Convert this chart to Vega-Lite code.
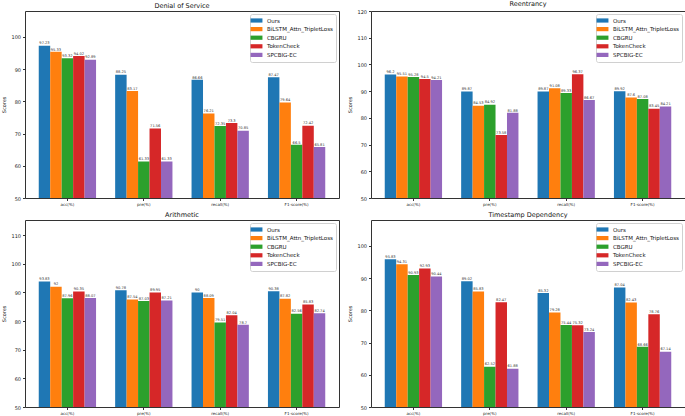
{
  "$schema": "https://vega.github.io/schema/vega-lite/v6.json",
  "padding": {"left": 1, "top": 0, "right": 2, "bottom": 0},
  "config": {
    "font": "DejaVu Sans",
    "view": {"stroke": "#333", "strokeWidth": 1},
    "title": {"fontSize": 6.5, "fontWeight": "normal", "color": "#111", "offset": 2, "font": "DejaVu Sans"},
    "axis": {"domain": false, "tickColor": "#333", "tickSize": 2.5, "labelColor": "#222", "labelFont": "DejaVu Sans", "titleFont": "DejaVu Sans", "titleFontWeight": "normal", "titleColor": "#222", "grid": false},
    "legend": {"orient": "top-right", "offset": 3, "strokeColor": "#d0d0d0", "fillColor": "white", "padding": 3, "cornerRadius": 2, "labelFontSize": 5.5, "labelColor": "#111", "rowPadding": 1.6, "symbolType": "M-1.7,-0.6H1.7V0.6H-1.7Z", "symbolSize": 49, "symbolStrokeWidth": 0, "labelOffset": 7, "title": null}
  },
  "datasets": {
    "scores": [
      {"panel": "DoS", "metric": "acc(%)", "model": "Ours", "value": 97.23},
      {"panel": "DoS", "metric": "acc(%)", "model": "BiLSTM_Attn_TripletLoss", "value": 95.33},
      {"panel": "DoS", "metric": "acc(%)", "model": "CBGRU", "value": 93.32},
      {"panel": "DoS", "metric": "acc(%)", "model": "TokenCheck", "value": 94.02},
      {"panel": "DoS", "metric": "acc(%)", "model": "SPCBIG-EC", "value": 92.89},
      {"panel": "DoS", "metric": "pre(%)", "model": "Ours", "value": 88.25},
      {"panel": "DoS", "metric": "pre(%)", "model": "BiLSTM_Attn_TripletLoss", "value": 83.17},
      {"panel": "DoS", "metric": "pre(%)", "model": "CBGRU", "value": 61.33},
      {"panel": "DoS", "metric": "pre(%)", "model": "TokenCheck", "value": 71.56},
      {"panel": "DoS", "metric": "pre(%)", "model": "SPCBIG-EC", "value": 61.33},
      {"panel": "DoS", "metric": "recall(%)", "model": "Ours", "value": 86.66},
      {"panel": "DoS", "metric": "recall(%)", "model": "BiLSTM_Attn_TripletLoss", "value": 76.21},
      {"panel": "DoS", "metric": "recall(%)", "model": "CBGRU", "value": 72.35},
      {"panel": "DoS", "metric": "recall(%)", "model": "TokenCheck", "value": 73.3},
      {"panel": "DoS", "metric": "recall(%)", "model": "SPCBIG-EC", "value": 70.85},
      {"panel": "DoS", "metric": "F1-score(%)", "model": "Ours", "value": 87.47},
      {"panel": "DoS", "metric": "F1-score(%)", "model": "BiLSTM_Attn_TripletLoss", "value": 79.64},
      {"panel": "DoS", "metric": "F1-score(%)", "model": "CBGRU", "value": 66.5},
      {"panel": "DoS", "metric": "F1-score(%)", "model": "TokenCheck", "value": 72.42},
      {"panel": "DoS", "metric": "F1-score(%)", "model": "SPCBIG-EC", "value": 65.81},

      {"panel": "Re", "metric": "acc(%)", "model": "Ours", "value": 96.2},
      {"panel": "Re", "metric": "acc(%)", "model": "BiLSTM_Attn_TripletLoss", "value": 95.51},
      {"panel": "Re", "metric": "acc(%)", "model": "CBGRU", "value": 95.28},
      {"panel": "Re", "metric": "acc(%)", "model": "TokenCheck", "value": 94.5},
      {"panel": "Re", "metric": "acc(%)", "model": "SPCBIG-EC", "value": 94.21},
      {"panel": "Re", "metric": "pre(%)", "model": "Ours", "value": 89.87},
      {"panel": "Re", "metric": "pre(%)", "model": "BiLSTM_Attn_TripletLoss", "value": 84.53},
      {"panel": "Re", "metric": "pre(%)", "model": "CBGRU", "value": 84.92},
      {"panel": "Re", "metric": "pre(%)", "model": "TokenCheck", "value": 73.58},
      {"panel": "Re", "metric": "pre(%)", "model": "SPCBIG-EC", "value": 81.88},
      {"panel": "Re", "metric": "recall(%)", "model": "Ours", "value": 89.87},
      {"panel": "Re", "metric": "recall(%)", "model": "BiLSTM_Attn_TripletLoss", "value": 91.08},
      {"panel": "Re", "metric": "recall(%)", "model": "CBGRU", "value": 89.33},
      {"panel": "Re", "metric": "recall(%)", "model": "TokenCheck", "value": 96.37},
      {"panel": "Re", "metric": "recall(%)", "model": "SPCBIG-EC", "value": 86.67},
      {"panel": "Re", "metric": "F1-score(%)", "model": "Ours", "value": 89.92},
      {"panel": "Re", "metric": "F1-score(%)", "model": "BiLSTM_Attn_TripletLoss", "value": 87.6},
      {"panel": "Re", "metric": "F1-score(%)", "model": "CBGRU", "value": 87.08},
      {"panel": "Re", "metric": "F1-score(%)", "model": "TokenCheck", "value": 83.45},
      {"panel": "Re", "metric": "F1-score(%)", "model": "SPCBIG-EC", "value": 84.21},

      {"panel": "Ar", "metric": "acc(%)", "model": "Ours", "value": 93.83},
      {"panel": "Ar", "metric": "acc(%)", "model": "BiLSTM_Attn_TripletLoss", "value": 92.0},
      {"panel": "Ar", "metric": "acc(%)", "model": "CBGRU", "value": 87.96},
      {"panel": "Ar", "metric": "acc(%)", "model": "TokenCheck", "value": 90.35},
      {"panel": "Ar", "metric": "acc(%)", "model": "SPCBIG-EC", "value": 88.07},
      {"panel": "Ar", "metric": "pre(%)", "model": "Ours", "value": 90.78},
      {"panel": "Ar", "metric": "pre(%)", "model": "BiLSTM_Attn_TripletLoss", "value": 87.54},
      {"panel": "Ar", "metric": "pre(%)", "model": "CBGRU", "value": 87.03},
      {"panel": "Ar", "metric": "pre(%)", "model": "TokenCheck", "value": 89.95},
      {"panel": "Ar", "metric": "pre(%)", "model": "SPCBIG-EC", "value": 87.21},
      {"panel": "Ar", "metric": "recall(%)", "model": "Ours", "value": 90.0},
      {"panel": "Ar", "metric": "recall(%)", "model": "BiLSTM_Attn_TripletLoss", "value": 88.09},
      {"panel": "Ar", "metric": "recall(%)", "model": "CBGRU", "value": 79.51},
      {"panel": "Ar", "metric": "recall(%)", "model": "TokenCheck", "value": 82.04},
      {"panel": "Ar", "metric": "recall(%)", "model": "SPCBIG-EC", "value": 78.7},
      {"panel": "Ar", "metric": "F1-score(%)", "model": "Ours", "value": 90.38},
      {"panel": "Ar", "metric": "F1-score(%)", "model": "BiLSTM_Attn_TripletLoss", "value": 87.82},
      {"panel": "Ar", "metric": "F1-score(%)", "model": "CBGRU", "value": 82.56},
      {"panel": "Ar", "metric": "F1-score(%)", "model": "TokenCheck", "value": 85.83},
      {"panel": "Ar", "metric": "F1-score(%)", "model": "SPCBIG-EC", "value": 82.74},

      {"panel": "TD", "metric": "acc(%)", "model": "Ours", "value": 95.83},
      {"panel": "TD", "metric": "acc(%)", "model": "BiLSTM_Attn_TripletLoss", "value": 94.31},
      {"panel": "TD", "metric": "acc(%)", "model": "CBGRU", "value": 90.93},
      {"panel": "TD", "metric": "acc(%)", "model": "TokenCheck", "value": 92.93},
      {"panel": "TD", "metric": "acc(%)", "model": "SPCBIG-EC", "value": 90.44},
      {"panel": "TD", "metric": "pre(%)", "model": "Ours", "value": 89.02},
      {"panel": "TD", "metric": "pre(%)", "model": "BiLSTM_Attn_TripletLoss", "value": 85.83},
      {"panel": "TD", "metric": "pre(%)", "model": "CBGRU", "value": 62.52},
      {"panel": "TD", "metric": "pre(%)", "model": "TokenCheck", "value": 82.47},
      {"panel": "TD", "metric": "pre(%)", "model": "SPCBIG-EC", "value": 61.88},
      {"panel": "TD", "metric": "recall(%)", "model": "Ours", "value": 85.32},
      {"panel": "TD", "metric": "recall(%)", "model": "BiLSTM_Attn_TripletLoss", "value": 79.28},
      {"panel": "TD", "metric": "recall(%)", "model": "CBGRU", "value": 75.44},
      {"panel": "TD", "metric": "recall(%)", "model": "TokenCheck", "value": 75.32},
      {"panel": "TD", "metric": "recall(%)", "model": "SPCBIG-EC", "value": 73.24},
      {"panel": "TD", "metric": "F1-score(%)", "model": "Ours", "value": 87.04},
      {"panel": "TD", "metric": "F1-score(%)", "model": "BiLSTM_Attn_TripletLoss", "value": 82.43},
      {"panel": "TD", "metric": "F1-score(%)", "model": "CBGRU", "value": 68.66},
      {"panel": "TD", "metric": "F1-score(%)", "model": "TokenCheck", "value": 78.76},
      {"panel": "TD", "metric": "F1-score(%)", "model": "SPCBIG-EC", "value": 67.14}
    ]
  },
  "data": {"name": "scores"},
  "spacing": 4,
  "resolve": {"legend": {"color": "independent"}},
  "vconcat": [
    {
      "spacing": 7,
      "resolve": {"legend": {"color": "independent"}},
      "hconcat": [
        {
          "width": 314, "height": 187,
          "title": "Denial of Service",
          "transform": [{"filter": "datum.panel == 'DoS'"}],
          "encoding": {
            "x": {"field": "metric", "type": "nominal", "sort": ["acc(%)", "pre(%)", "recall(%)", "F1-score(%)"], "scale": {"paddingInner": 0.25, "paddingOuter": 0.18}, "axis": {"title": null, "labelAngle": 0, "labelFontSize": 4, "labelPadding": 2}},
            "xOffset": {"field": "model", "type": "nominal", "sort": ["Ours", "BiLSTM_Attn_TripletLoss", "CBGRU", "TokenCheck", "SPCBIG-EC"], "scale": {"paddingInner": 0, "paddingOuter": 0}},
            "y": {"field": "value", "type": "quantitative", "scale": {"domain": [50, 108], "nice": false, "zero": false}, "axis": {"title": "Scores", "values": [50, 60, 70, 80, 90, 100], "labelFontSize": 5, "titleFontSize": 5, "titlePadding": 4, "labelPadding": 2}}
          },
          "layer": [
            {"mark": {"type": "bar", "clip": true}, "encoding": {"color": {"field": "model", "type": "nominal", "sort": ["Ours", "BiLSTM_Attn_TripletLoss", "CBGRU", "TokenCheck", "SPCBIG-EC"], "scale": {"domain": ["Ours", "BiLSTM_Attn_TripletLoss", "CBGRU", "TokenCheck", "SPCBIG-EC"], "range": ["#1f77b4", "#ff7f0e", "#2ca02c", "#d62728", "#9467bd"]}}}},
            {"mark": {"type": "text", "fontSize": 3.6, "baseline": "bottom", "dy": -0.3, "color": "#333"}, "encoding": {"text": {"field": "value", "type": "quantitative"}}}
          ]
        },
        {
          "width": 314, "height": 187,
          "title": "Reentrancy",
          "transform": [{"filter": "datum.panel == 'Re'"}],
          "encoding": {
            "x": {"field": "metric", "type": "nominal", "sort": ["acc(%)", "pre(%)", "recall(%)", "F1-score(%)"], "scale": {"paddingInner": 0.25, "paddingOuter": 0.18}, "axis": {"title": null, "labelAngle": 0, "labelFontSize": 4, "labelPadding": 2}},
            "xOffset": {"field": "model", "type": "nominal", "sort": ["Ours", "BiLSTM_Attn_TripletLoss", "CBGRU", "TokenCheck", "SPCBIG-EC"], "scale": {"paddingInner": 0, "paddingOuter": 0}},
            "y": {"field": "value", "type": "quantitative", "scale": {"domain": [50, 120], "nice": false, "zero": false}, "axis": {"title": "Scores", "values": [50, 60, 70, 80, 90, 100, 110, 120], "labelFontSize": 5, "titleFontSize": 5, "titlePadding": 4, "labelPadding": 2}}
          },
          "layer": [
            {"mark": {"type": "bar", "clip": true}, "encoding": {"color": {"field": "model", "type": "nominal", "sort": ["Ours", "BiLSTM_Attn_TripletLoss", "CBGRU", "TokenCheck", "SPCBIG-EC"], "scale": {"domain": ["Ours", "BiLSTM_Attn_TripletLoss", "CBGRU", "TokenCheck", "SPCBIG-EC"], "range": ["#1f77b4", "#ff7f0e", "#2ca02c", "#d62728", "#9467bd"]}}}},
            {"mark": {"type": "text", "fontSize": 3.6, "baseline": "bottom", "dy": -0.3, "color": "#333"}, "encoding": {"text": {"field": "value", "type": "quantitative"}}}
          ]
        }
      ]
    },
    {
      "spacing": 7,
      "resolve": {"legend": {"color": "independent"}},
      "hconcat": [
        {
          "width": 314, "height": 187,
          "title": "Arithmetic",
          "transform": [{"filter": "datum.panel == 'Ar'"}],
          "encoding": {
            "x": {"field": "metric", "type": "nominal", "sort": ["acc(%)", "pre(%)", "recall(%)", "F1-score(%)"], "scale": {"paddingInner": 0.25, "paddingOuter": 0.18}, "axis": {"title": null, "labelAngle": 0, "labelFontSize": 4, "labelPadding": 2}},
            "xOffset": {"field": "model", "type": "nominal", "sort": ["Ours", "BiLSTM_Attn_TripletLoss", "CBGRU", "TokenCheck", "SPCBIG-EC"], "scale": {"paddingInner": 0, "paddingOuter": 0}},
            "y": {"field": "value", "type": "quantitative", "scale": {"domain": [50, 115.3], "nice": false, "zero": false}, "axis": {"title": "Scores", "values": [50, 60, 70, 80, 90, 100, 110], "labelFontSize": 5, "titleFontSize": 5, "titlePadding": 4, "labelPadding": 2}}
          },
          "layer": [
            {"mark": {"type": "bar", "clip": true}, "encoding": {"color": {"field": "model", "type": "nominal", "sort": ["Ours", "BiLSTM_Attn_TripletLoss", "CBGRU", "TokenCheck", "SPCBIG-EC"], "scale": {"domain": ["Ours", "BiLSTM_Attn_TripletLoss", "CBGRU", "TokenCheck", "SPCBIG-EC"], "range": ["#1f77b4", "#ff7f0e", "#2ca02c", "#d62728", "#9467bd"]}}}},
            {"mark": {"type": "text", "fontSize": 3.6, "baseline": "bottom", "dy": -0.3, "color": "#333"}, "encoding": {"text": {"field": "value", "type": "quantitative"}}}
          ]
        },
        {
          "width": 314, "height": 187,
          "title": "Timestamp Dependency",
          "transform": [{"filter": "datum.panel == 'TD'"}],
          "encoding": {
            "x": {"field": "metric", "type": "nominal", "sort": ["acc(%)", "pre(%)", "recall(%)", "F1-score(%)"], "scale": {"paddingInner": 0.25, "paddingOuter": 0.18}, "axis": {"title": null, "labelAngle": 0, "labelFontSize": 4, "labelPadding": 2}},
            "xOffset": {"field": "model", "type": "nominal", "sort": ["Ours", "BiLSTM_Attn_TripletLoss", "CBGRU", "TokenCheck", "SPCBIG-EC"], "scale": {"paddingInner": 0, "paddingOuter": 0}},
            "y": {"field": "value", "type": "quantitative", "scale": {"domain": [50, 108], "nice": false, "zero": false}, "axis": {"title": "Scores", "values": [50, 60, 70, 80, 90, 100], "labelFontSize": 5, "titleFontSize": 5, "titlePadding": 4, "labelPadding": 2}}
          },
          "layer": [
            {"mark": {"type": "bar", "clip": true}, "encoding": {"color": {"field": "model", "type": "nominal", "sort": ["Ours", "BiLSTM_Attn_TripletLoss", "CBGRU", "TokenCheck", "SPCBIG-EC"], "scale": {"domain": ["Ours", "BiLSTM_Attn_TripletLoss", "CBGRU", "TokenCheck", "SPCBIG-EC"], "range": ["#1f77b4", "#ff7f0e", "#2ca02c", "#d62728", "#9467bd"]}}}},
            {"mark": {"type": "text", "fontSize": 3.6, "baseline": "bottom", "dy": -0.3, "color": "#333"}, "encoding": {"text": {"field": "value", "type": "quantitative"}}}
          ]
        }
      ]
    }
  ]
}
